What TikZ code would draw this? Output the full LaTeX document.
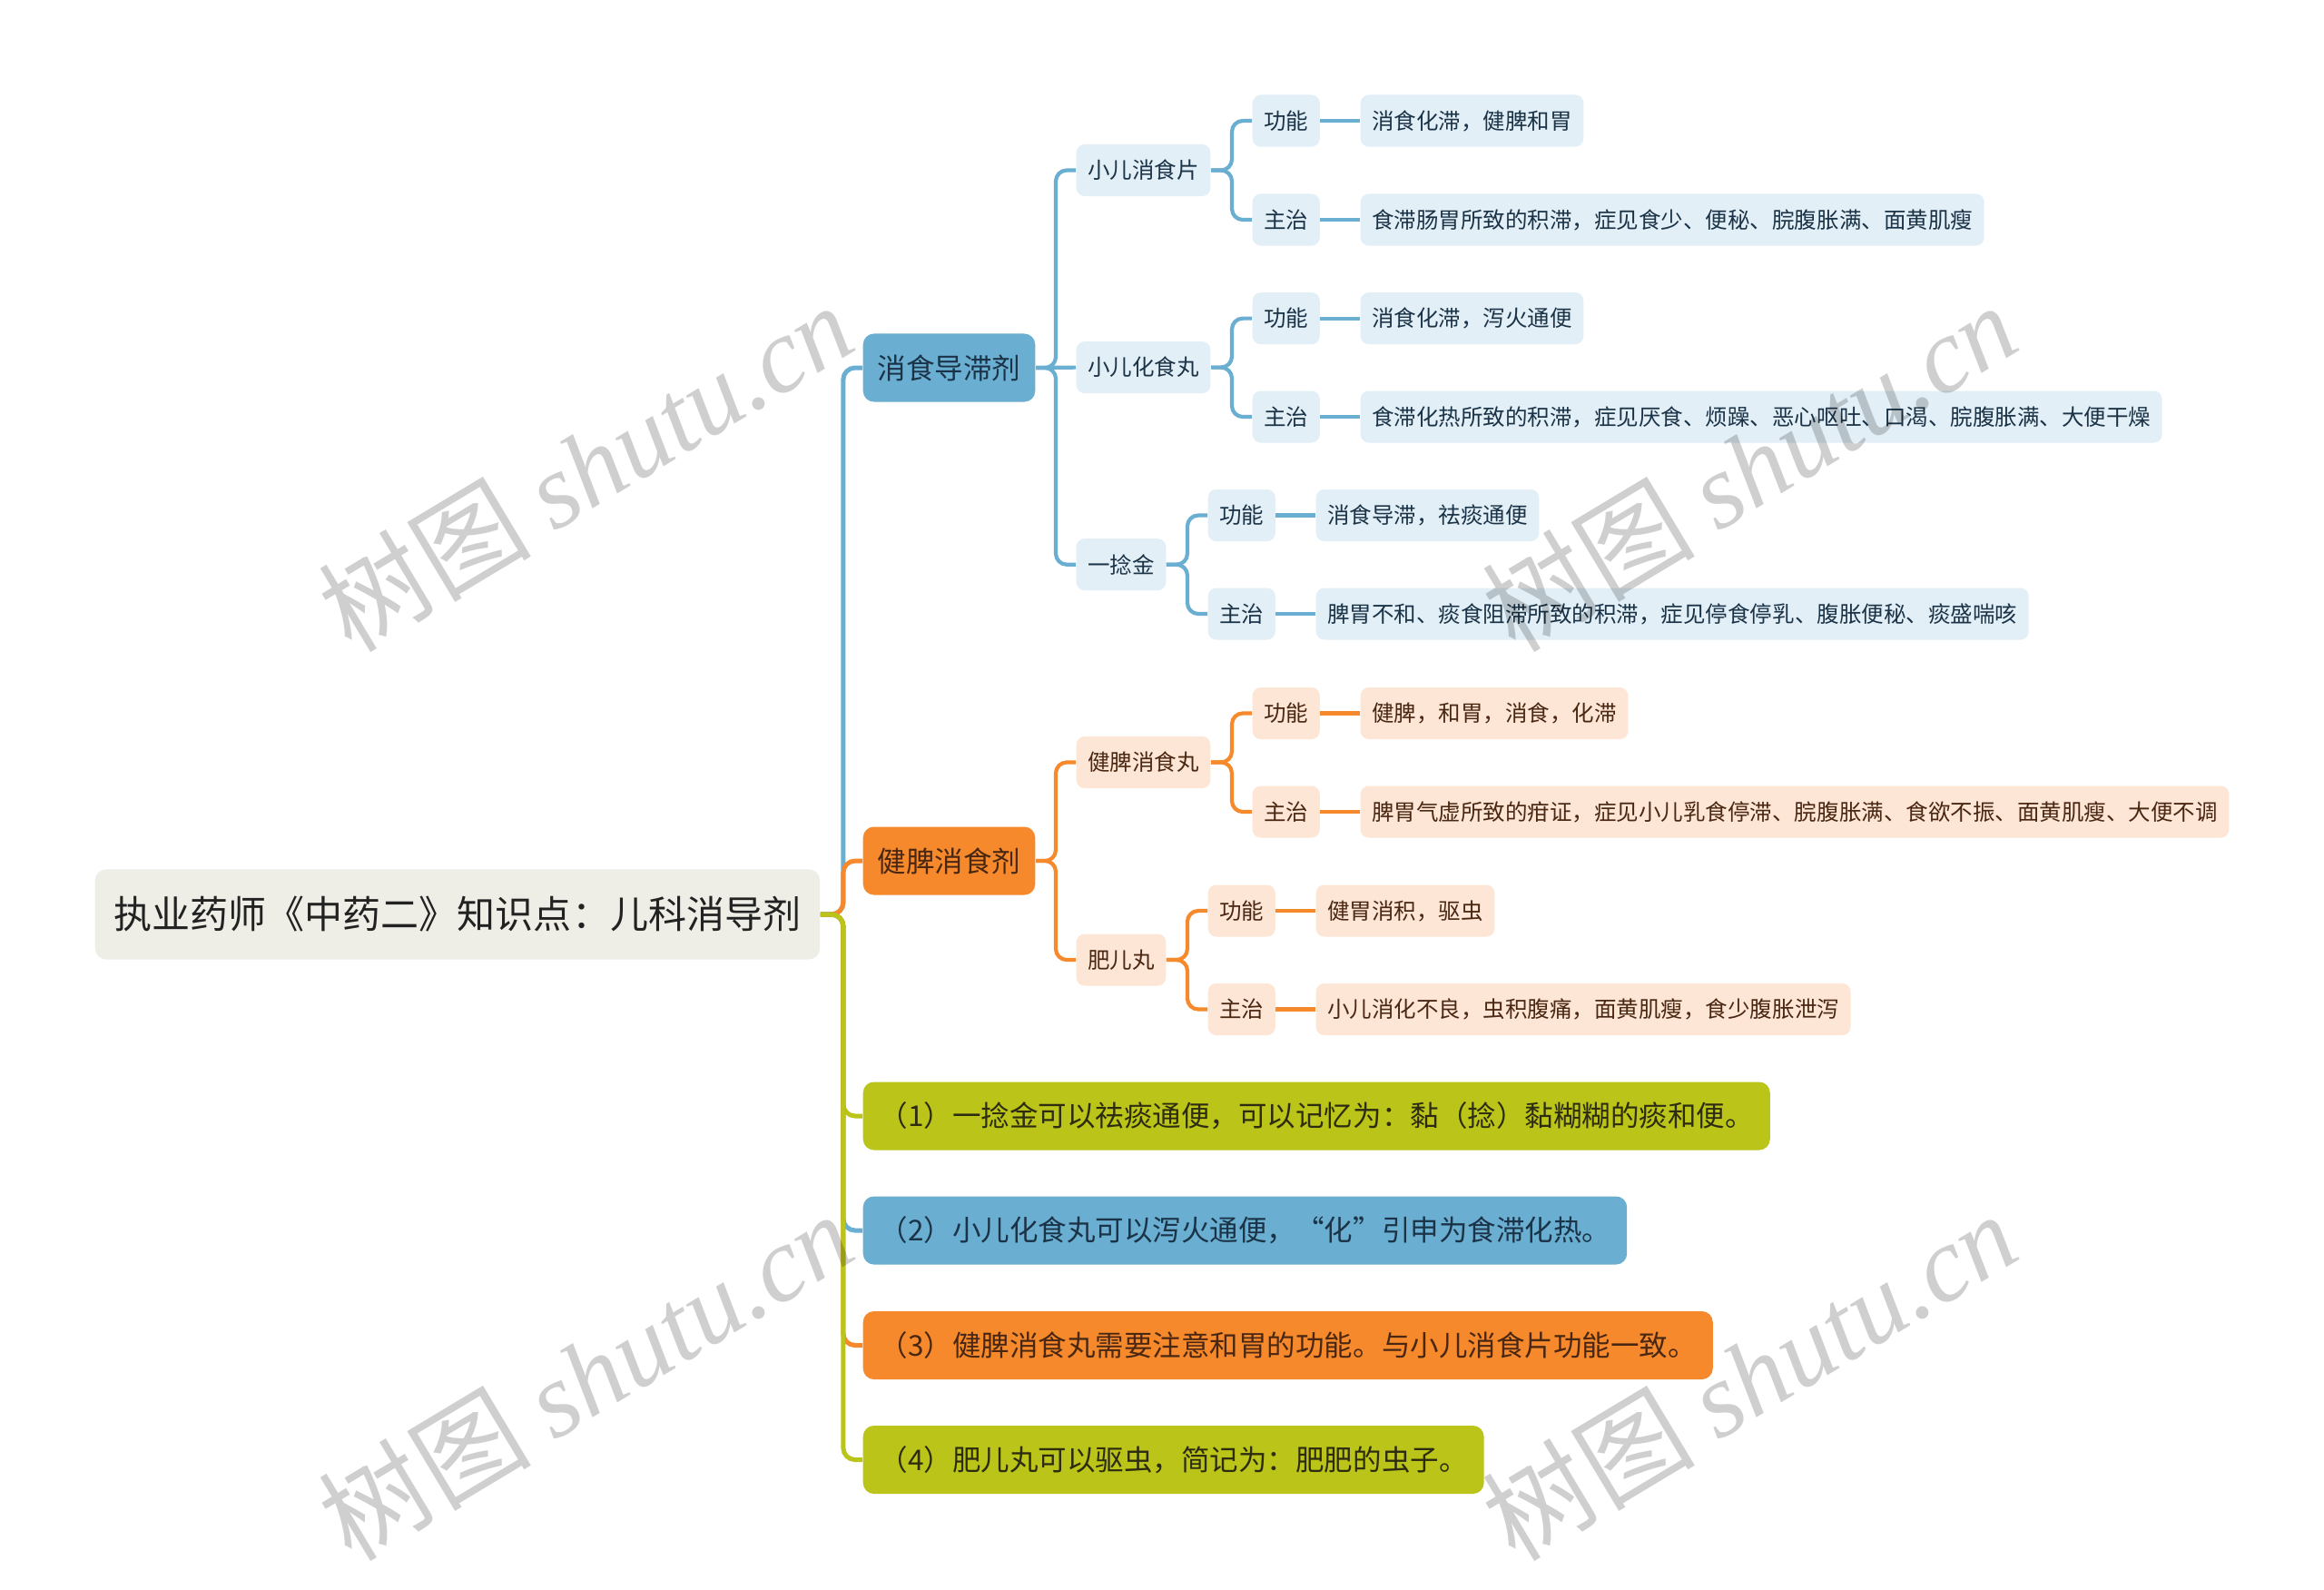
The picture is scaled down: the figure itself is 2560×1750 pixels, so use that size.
\documentclass[tikz,border=0pt]{standalone}
\usepackage{fontspec}
\setmainfont{Noto Sans CJK SC}
\newfontfamily\wmserif{Liberation Serif}
\definecolor{bluemain}{HTML}{6AAED1}
\definecolor{bluelt}{HTML}{E2EFF7}
\definecolor{bluetxt}{HTML}{1B3347}
\definecolor{orgmain}{HTML}{F5892C}
\definecolor{orglt}{HTML}{FDE6D5}
\definecolor{orgtxt}{HTML}{4A2712}
\definecolor{grnmain}{HTML}{BAC419}
\definecolor{grntxt}{HTML}{2E2C10}
\definecolor{rootfill}{HTML}{EEEEE7}
\definecolor{roottxt}{HTML}{222222}
\tikzset{
  sub/.style={rounded corners=0.09cm, anchor=west, inner ysep=0pt, inner xsep=0.125cm,
    minimum height=0.57cm, font=\fontsize{0.245cm}{0.3cm}\selectfont},
  bsub/.style={sub, fill=bluelt, text=bluetxt},
  osub/.style={sub, fill=orglt, text=orgtxt},
  lone/.style={rounded corners=0.12cm, anchor=west, inner ysep=0pt, inner xsep=0.16cm,
    minimum height=0.75cm, font=\fontsize{0.315cm}{0.38cm}\selectfont},
  bone/.style={lone, fill=bluemain, text=bluetxt},
  oone/.style={lone, fill=orgmain, text=orgtxt},
  gone/.style={lone, fill=grnmain, text=grntxt},
  nb/.style={bone, inner xsep=0.18cm},
  no/.style={oone, inner xsep=0.18cm},
  ng/.style={gone, inner xsep=0.18cm},
  rootbox/.style={rounded corners=0.12cm, anchor=west, inner ysep=0pt, inner xsep=0.21cm,
    minimum height=0.99cm, fill=rootfill, text=roottxt, font=\fontsize{0.42cm}{0.5cm}\selectfont},
  mb/.style={draw=bluemain, line width=0.05cm, rounded corners=0.13cm},
  mo/.style={draw=orgmain, line width=0.05cm, rounded corners=0.13cm},
  mg/.style={draw=grnmain, line width=0.05cm, rounded corners=0.13cm},
  sb/.style={draw=bluemain, line width=0.042cm, rounded corners=0.12cm},
  so/.style={draw=orgmain, line width=0.042cm, rounded corners=0.12cm},
  wm/.style={rotate=31, text=black, text opacity=0.19, inner sep=0pt},
}
\begin{document}
\begin{tikzpicture}[x=0.01cm, y=-0.01cm]
\useasboundingbox (0,0) rectangle (2560,1750);
\fill[white] (0,0) rectangle (2560,1750);

% root
\node[rootbox] (root) at (104,1007) {执业药师《中药二》知识点：儿科消导剂};

% level 1
\node[bone] (xs) at (950,405) {消食导滞剂};
\node[oone] (jp) at (950,948) {健脾消食剂};
\node[ng] (n1) at (950,1229) {（1）一捻金可以祛痰通便，可以记忆为：黏（捻）黏糊糊的痰和便。};
\node[nb] (n2) at (950,1355) {（2）小儿化食丸可以泻火通便，“化”引申为食滞化热。};
\node[no] (n3) at (950,1481.5) {（3）健脾消食丸需要注意和胃的功能。与小儿消食片功能一致。};
\node[ng] (n4) at (950,1607.5) {（4）肥儿丸可以驱虫，简记为：肥肥的虫子。};

% blue level 2
\node[bsub] (a1) at (1185,187.5) {小儿消食片};
\node[bsub] (a2) at (1185,404.6) {小儿化食丸};
\node[bsub] (a3) at (1185,621.7) {一捻金};
% blue level 3
\node[bsub] (a1f) at (1379,133) {功能};
\node[bsub] (a1z) at (1379,242) {主治};
\node[bsub] (a2f) at (1379,350.6) {功能};
\node[bsub] (a2z) at (1379,459) {主治};
\node[bsub] (a3f) at (1330,567.5) {功能};
\node[bsub] (a3z) at (1330,676) {主治};
% blue leaves
\node[bsub] (a1fl) at (1498,133) {消食化滞，健脾和胃};
\node[bsub] (a1zl) at (1498,242) {食滞肠胃所致的积滞，症见食少、便秘、脘腹胀满、面黄肌瘦};
\node[bsub] (a2fl) at (1498,350.6) {消食化滞，泻火通便};
\node[bsub] (a2zl) at (1498,459) {食滞化热所致的积滞，症见厌食、烦躁、恶心呕吐、口渴、脘腹胀满、大便干燥};
\node[bsub] (a3fl) at (1449,567.5) {消食导滞，祛痰通便};
\node[bsub] (a3zl) at (1449,676) {脾胃不和、痰食阻滞所致的积滞，症见停食停乳、腹胀便秘、痰盛喘咳};

% orange level 2
\node[osub] (b1) at (1185,839.5) {健脾消食丸};
\node[osub] (b2) at (1185,1057) {肥儿丸};
% orange level 3
\node[osub] (b1f) at (1379,785.5) {功能};
\node[osub] (b1z) at (1379,894) {主治};
\node[osub] (b2f) at (1330,1003) {功能};
\node[osub] (b2z) at (1330,1111.5) {主治};
% orange leaves
\node[osub] (b1fl) at (1498,785.5) {健脾，和胃，消食，化滞};
\node[osub] (b1zl) at (1498,894) {脾胃气虚所致的疳证，症见小儿乳食停滞、脘腹胀满、食欲不振、面黄肌瘦、大便不调};
\node[osub] (b2fl) at (1449,1003) {健胃消积，驱虫};
\node[osub] (b2zl) at (1449,1111.5) {小儿消化不良，虫积腹痛，面黄肌瘦，食少腹胀泄泻};

% main connectors
\draw[mb] (root.east) -- ++(25,0) |- (xs.west);
\draw[mo] (root.east) -- ++(25,0) |- (jp.west);
\draw[mg] (root.east) -- ++(25,0) |- (n1.west);
\draw[mb] (root.east) -- ++(25,0) |- (n2.west);
\draw[mo] (root.east) -- ++(25,0) |- (n3.west);
\draw[mg] (root.east) -- ++(25,0) |- (n4.west);

% blue sub connectors
\draw[sb] (xs.east) -- ++(22,0) |- (a1.west);
\draw[sb] (xs.east) -- (a2.west);
\draw[sb] (xs.east) -- ++(22,0) |- (a3.west);
\draw[sb] (a1.east) -- ++(23,0) |- (a1f.west);
\draw[sb] (a1.east) -- ++(23,0) |- (a1z.west);
\draw[sb] (a2.east) -- ++(23,0) |- (a2f.west);
\draw[sb] (a2.east) -- ++(23,0) |- (a2z.west);
\draw[sb] (a3.east) -- ++(23,0) |- (a3f.west);
\draw[sb] (a3.east) -- ++(23,0) |- (a3z.west);
\draw[sb] (a1f.east) -- (a1fl.west);
\draw[sb] (a1z.east) -- (a1zl.west);
\draw[sb] (a2f.east) -- (a2fl.west);
\draw[sb] (a2z.east) -- (a2zl.west);
\draw[sb] (a3f.east) -- (a3fl.west);
\draw[sb] (a3z.east) -- (a3zl.west);

% orange sub connectors
\draw[so] (jp.east) -- ++(22,0) |- (b1.west);
\draw[so] (jp.east) -- ++(22,0) |- (b2.west);
\draw[so] (b1.east) -- ++(23,0) |- (b1f.west);
\draw[so] (b1.east) -- ++(23,0) |- (b1z.west);
\draw[so] (b2.east) -- ++(23,0) |- (b2f.west);
\draw[so] (b2.east) -- ++(23,0) |- (b2z.west);
\draw[so] (b1f.east) -- (b1fl.west);
\draw[so] (b1z.east) -- (b1zl.west);
\draw[so] (b2f.east) -- (b2fl.west);
\draw[so] (b2z.east) -- (b2zl.west);

% watermarks
\foreach \i/\p in {w1/{(645,514)}, w2/{(1927,514)}, w3/{(645,1515)}, w4/{(1927,1515)}}
  \node[wm, font=\fontsize{1.17cm}{1.4cm}\selectfont] (\i) at \p {树图 {\wmserif\itshape shutu.cn}};
\end{tikzpicture}
\end{document}
